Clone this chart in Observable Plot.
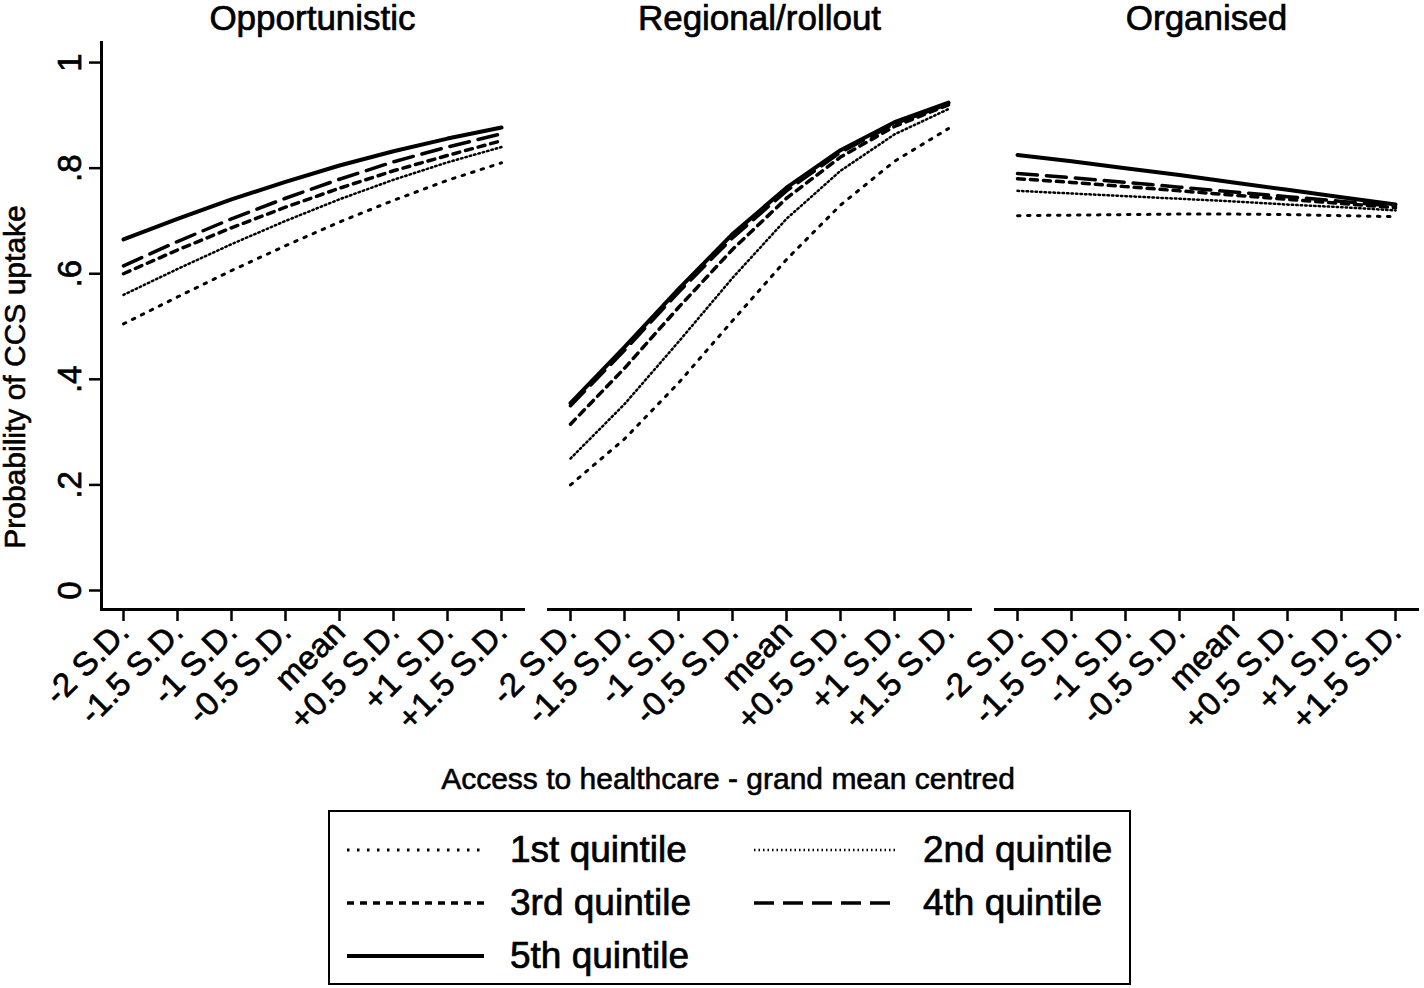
<!DOCTYPE html>
<html>
<head>
<meta charset="utf-8">
<script src="https://cdn.jsdelivr.net/npm/d3@7"></script>
<script src="https://cdn.jsdelivr.net/npm/@observablehq/plot@0.6"></script>
<style>
  html, body { margin: 0; padding: 0; background: #fff; }
  #wrap { position: relative; width: 1424px; height: 988px; font-family: "Liberation Sans", Arial, sans-serif; color: #000; }
  #chart { position: absolute; left: 0; top: 0; }
  #chart svg text { stroke: #000; stroke-width: 0.7px; }
  .ytitle { position: absolute; left: 15px; top: 377px; transform: translate(-50%, -50%) rotate(-90deg); font-size: 30px; white-space: nowrap; -webkit-text-stroke: 0.6px #000; }
  .xtitle { position: absolute; left: 728px; top: 779px; transform: translate(-50%, -50%); font-size: 30px; white-space: nowrap; -webkit-text-stroke: 0.6px #000; }
  #legend { position: absolute; left: 328px; top: 810px; width: 799px; height: 171px; border: 2.5px solid #000; }
  .item { position: absolute; display: flex; align-items: center; height: 50px; transform: translateY(-50%); }
  .item span { font-size: 37px; margin-left: 26px; white-space: nowrap; -webkit-text-stroke: 0.7px #000; }
</style>
</head>
<body>
<div id="wrap">
  <div id="chart"></div>
  <div class="ytitle">Probability of CCS uptake</div>
  <div class="xtitle">Access to healthcare - grand mean centred</div>
  <div id="legend"></div>
</div>
<script>
// ---- Data ----
const panels = ["Opportunistic", "Regional/rollout", "Organised"];
const xLabels = ["-2 S.D.", "-1.5 S.D.", "-1 S.D.", "-0.5 S.D.", "mean", "+0.5 S.D.", "+1 S.D.", "+1.5 S.D."];
const quintiles = ["1st quintile", "2nd quintile", "3rd quintile", "4th quintile", "5th quintile"];
const yTicks = [0, 0.2, 0.4, 0.6, 0.8, 1];
const yTickLabels = ["0", ".2", ".4", ".6", ".8", "1"];

// rows: 1st..5th quintile, columns: xLabels
const opportunistic = [
  [0.505, 0.556, 0.606, 0.653, 0.698, 0.739, 0.777, 0.810],
  [0.560, 0.609, 0.656, 0.700, 0.741, 0.778, 0.811, 0.840],
  [0.600, 0.645, 0.687, 0.726, 0.762, 0.795, 0.824, 0.852],
  [0.615, 0.661, 0.704, 0.743, 0.779, 0.812, 0.840, 0.865],
  [0.665, 0.704, 0.741, 0.774, 0.805, 0.832, 0.856, 0.877]
];
const regional = [
  [0.200, 0.287, 0.393, 0.511, 0.627, 0.730, 0.813, 0.875],
  [0.250, 0.353, 0.471, 0.592, 0.704, 0.795, 0.864, 0.912],
  [0.315, 0.421, 0.536, 0.646, 0.743, 0.821, 0.879, 0.920],
  [0.350, 0.455, 0.565, 0.668, 0.757, 0.830, 0.884, 0.922],
  [0.355, 0.461, 0.571, 0.675, 0.763, 0.834, 0.887, 0.924]
];
const organised = [
  [0.710, 0.711, 0.712, 0.713, 0.713, 0.712, 0.710, 0.708],
  [0.757, 0.752, 0.747, 0.742, 0.737, 0.731, 0.726, 0.720],
  [0.780, 0.773, 0.765, 0.757, 0.749, 0.741, 0.733, 0.725],
  [0.790, 0.782, 0.773, 0.764, 0.755, 0.746, 0.737, 0.728],
  [0.825, 0.813, 0.800, 0.787, 0.773, 0.759, 0.745, 0.731]
];

// ---- Styles ----
const lineStyles = [
  {dash: "2.5 7.5", width: 3},
  {dash: "1.5 3", width: 2.5},
  {dash: "7 6", width: 3.5},
  {dash: "20 9", width: 3.5},
  {dash: null, width: 4}
];

const panelValues = [opportunistic, regional, organised];
const rows = [];
panels.forEach((p, pi) => panelValues[pi].forEach((series, qi) => series.forEach((v, xi) => {
  rows.push({panel: p, quintile: quintiles[qi], x: xLabels[xi], y: v});
})));

const H = 760;
const chart = Plot.plot({
  width: 1424,
  height: H,
  marginLeft: 100,
  marginRight: 7,
  marginTop: 42,
  marginBottom: H - 609,
  style: {fontFamily: "Liberation Sans, Arial, sans-serif", fontSize: "32px", color: "#000", background: "#fff", overflow: "visible"},
  fx: {domain: panels, paddingInner: 0.057, paddingOuter: 0, label: null},
  x: {type: "point", domain: xLabels, padding: 0.37},
  y: {domain: [-0.036, 1.038]},
  marks: [
    Plot.axisFx({anchor: "top", label: null, tickSize: 0, tickPadding: 13, fontSize: 35}),
    Plot.axisX({anchor: "bottom", label: null, tickRotate: -45, tickSize: 12, strokeWidth: 2.5, tickPadding: 5, fontSize: 33}),
    Plot.axisY({anchor: "left", label: null, ticks: yTicks, tickFormat: d => yTickLabels[yTicks.indexOf(d)], tickRotate: -90, tickSize: 12, strokeWidth: 2.5, tickPadding: 9, fontSize: 33}),
    Plot.frame({anchor: "bottom", strokeWidth: 3}),
    Plot.frame({anchor: "left", facetAnchor: "left", strokeWidth: 3}),
    ...quintiles.map((q, qi) => Plot.line(rows.filter(r => r.quintile === q), {
      fx: "panel", x: "x", y: "y", stroke: "#000",
      strokeWidth: lineStyles[qi].width,
      strokeDasharray: lineStyles[qi].dash || undefined
    }))
  ]
});
document.getElementById("chart").appendChild(chart);

// ---- Legend ----
const legend = document.getElementById("legend");
const legendPos = [
  {x: 17, y: 38}, {x: 424, y: 38},
  {x: 17, y: 91}, {x: 424, y: 91},
  {x: 17, y: 144}
];
quintiles.forEach((q, qi) => {
  const it = document.createElement("div");
  it.className = "item";
  it.style.left = legendPos[qi].x + "px";
  it.style.top = legendPos[qi].y + "px";
  const w = qi % 2 === 0 ? 137 : 143;
  const st = lineStyles[qi];
  it.innerHTML = `<svg width="${w}" height="10"><line x1="0" y1="5" x2="${w}" y2="5" stroke="#000" stroke-width="${st.width}" ${st.dash ? `stroke-dasharray="${st.dash}"` : ""}/></svg><span>${q}</span>`;
  legend.appendChild(it);
});
</script>
</body>
</html>
